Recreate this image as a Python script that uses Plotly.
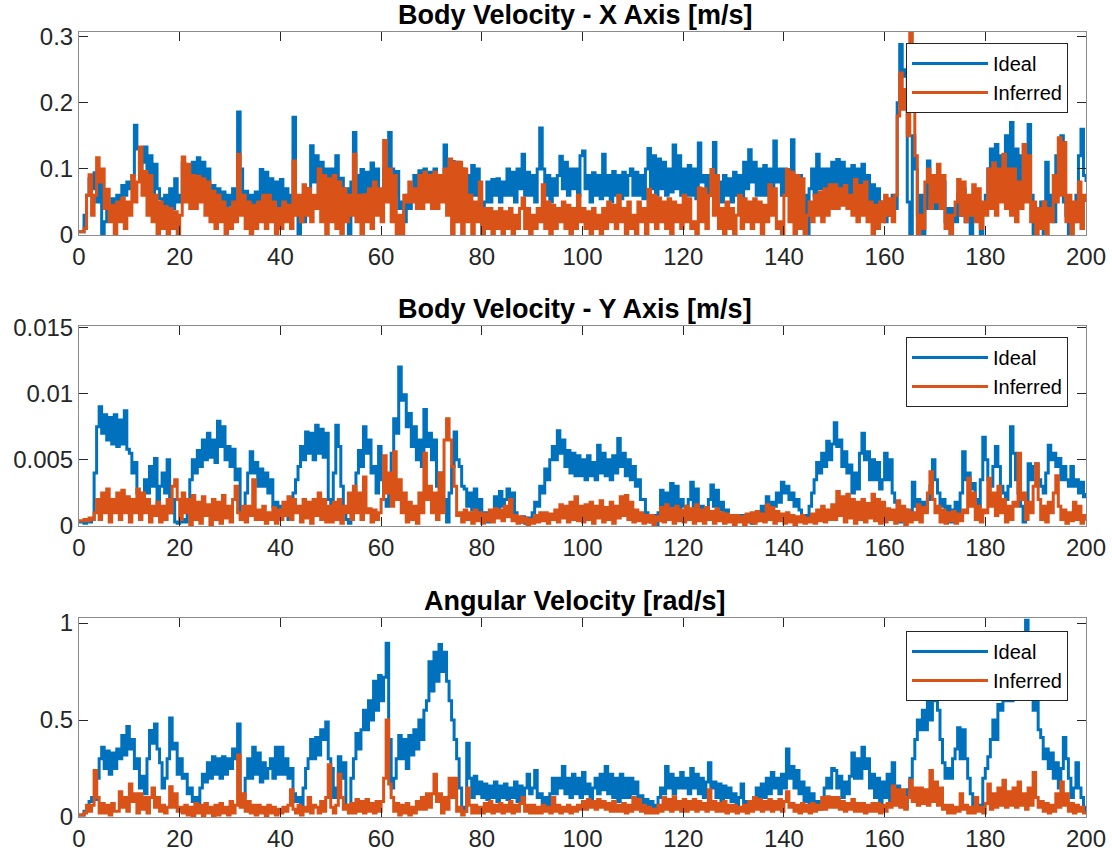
import numpy as np
import plotly.graph_objects as go

sample_step_s = 0.5

ideal_vx = [
    .005, .005, .03, .06, .085, .07, .094, .05, .08, 0, .02, .045, .03, .055, .04, .06, .05, .075, .06, .08,
    .07, .09, .166, .13, .1, .11, .133, .09, .12, .06, .107, .07, .055, .03, .06, .02, .07, .04, .085, .05,
    .06, .109, .07, .1, .08, .11, .07, .117, .08, .11, .075, .1, .06, .075, .04, .07, .03, .065, .04, .06,
    .045, .07, .05, .186, .1, .04, .066, .03, .06, .04, .065, .05, .099, .06, .095, .05, .085, .05, .08, .04,
    .084, .05, .07, .03, .06, .178, .05, 0, .04, .02, .05, .07, .135, .08, .12, .06, .11, .07, .1, .06,
    .1, .07, .12, .06, .086, .03, .07, 0, .08, .155, .09, .06, .099, .06, .095, .05, .109, .06, .1, .04,
    .06, .1, .08, .155, .1, .06, .096, .04, .05, .02, .06, .04, .06, .09, .05, .097, .06, .1, .07, .095,
    .06, .1, .07, .09, .06, .136, .1, .08, .111, .07, .11, .06, .1, .07, .09, .05, .105, .06, .1, .04,
    0, .05, .08, .05, .084, .06, .085, .05, .08, .06, .1, .06, .095, .05, .1, .07, .122, .06, .095, .06,
    .09, .05, .1, .162, .1, .06, .09, .05, .085, .06, .09, .119, .07, .11, .06, .1, .07, .1, .06, .12,
    .127, .07, .09, .05, .094, .06, .09, .055, .122, .06, .09, .05, .096, .06, .09, .055, .095, .06, .09, .1,
    .06, .095, .06, .09, .055, .1, .131, .07, .12, .06, .115, .07, .11, .06, .1, .065, .136, .07, .12, .06,
    .1, .06, .105, .06, .1, .055, .139, .08, .09, .055, .09, .06, .14, .09, .08, .05, .09, .06, .085, .05,
    .095, .06, .09, .055, .11, .07, .129, .08, .11, .06, .1, .06, .105, .06, .1, .065, .142, .08, .1, .06,
    .1, .06, .09, .144, .08, .06, .09, .03, .06, 0, .07, .1, .06, .122, .07, .1, .06, .1, .06, .11,
    .06, .114, .06, .11, .05, .1, .06, .105, .06, .1, .06, .107, .06, .09, .05, .076, .04, .07, .03, .05,
    .02, .05, .03, .06, .04, .2, .288, .24, .25, .05, 0, .15, .1, .03, .06, 0, .04, .112, .06, .08,
    .04, .09, .05, .08, .02, .04, 0, .04, .02, .06, .03, .07, .02, .05, 0, .06, .03, .05, 0, .04,
    .06, .1, .13, .08, .137, .09, .12, .08, .15, .09, .17, .1, .13, .07, .12, .06, .1, .167, .06, 0,
    .04, .02, .05, 0, .11, .03, .06, .02, .12, .08, .15, .05, .03, 0, .04, .02, .06, .12, .16, .09,
    .08,
]

inferred_vx = [
    .005, .005, .01, .06, .091, .03, .06, .117, .08, .1, .04, .069, .02, .045, 0, .05, .02, .056, .01, .05,
    .03, .09, .05, .08, .133, .06, .096, .03, .09, .02, .06, 0, .05, .01, .043, 0, .04, .01, .035, 0,
    .03, .118, .05, .107, .04, .09, .04, .089, .05, .085, .03, .08, .02, .066, .01, .06, .02, .05, 0, .04,
    .01, .05, .02, .122, .03, .06, .01, .05, 0, .045, .01, .05, .02, .06, .01, .06, .02, .05, 0, .04,
    .01, .05, .02, .045, .01, .112, .03, .06, .02, .076, .03, .07, .02, .06, .04, .1, .02, .09, 0, .085,
    .02, .09, .01, .08, 0, .07, .02, .06, .03, .122, .02, .06, 0, .061, .02, .07, .01, .08, .03, .07,
    .02, .143, .05, .1, .02, .09, 0, .03, 0, .06, .05, .08, .05, .07, .04, .09, .04, .095, .05, .09,
    .04, .095, .04, .09, .05, .1, .03, .115, 0, .11, .02, .11, 0, .1, .02, .06, 0, .05, .02, .08,
    0, .04, .01, .04, 0, .035, .01, .04, 0, .035, .01, .04, 0, .03, .01, .04, .056, .01, .04, 0,
    .03, .01, .04, .02, .076, .01, .05, 0, .045, .01, .04, .02, .05, .01, .045, 0, .04, .01, .06, .02,
    .04, .01, .035, 0, .04, .01, .03, 0, .04, .01, .05, .02, .045, .01, .06, .02, .04, 0, .05, .01,
    .03, 0, .05, .02, .04, 0, .069, .02, .06, .01, .056, .02, .05, .01, .055, 0, .05, .02, .045, .01,
    .06, .02, .055, .01, .02, 0, .071, .02, .07, .01, .06, .099, .03, .09, .01, .04, 0, .05, .01, .04,
    0, .03, .06, .01, .055, .02, .05, .01, .055, .02, .05, 0, .045, .02, .076, .03, .07, .01, .02, 0,
    .06, .099, .02, .095, 0, .09, .01, .085, 0, .03, .05, .02, .06, .03, .065, .02, .07, .03, .076, .04,
    .076, .04, .07, .045, .075, .04, .06, .03, .084, .02, .075, .03, .08, .02, .05, 0, .045, .01, .05, .02,
    .06, .03, .055, .02, .06, .18, .245, .19, .22, .15, .31, .192, .12, 0, .03, .01, .08, .1, .04, .09,
    .05, .107, .04, .09, .01, .03, 0, .03, .05, .084, .03, .08, .02, .06, .03, .076, .02, .07, .01, .05,
    .03, .1, .04, .109, .03, .1, .05, .122, .04, .1, .03, .1, .02, .08, .04, .137, .05, .12, .02, .05,
    0, .04, .01, .05, 0, .04, .02, .09, .05, .147, .06, .14, .02, .06, 0, .05, .02, .08, .01, .06,
    .05,
]

# Y-axis body velocity, in units of 1e-3 m/s
ideal_vy_milli = [
    .3, .3, .2, .4, .3, .5, 4.0, 7.5, 9.0, 7.0, 8.4, 6.5, 8.2, 6.2, 8.4, 6.0, 8.0, 6.2, 8.7, 5.8,
    5.5, 4.0, 4.8, 2.5, 1.0, 2.0, 3.5, 2.5, 4.5, 3.0, 5.1, 1.5, 3.0, 4.0, 2.5, 5.0, 1.0, 2.0, .3, .2,
    .3, .5, .3, 2.0, 3.5, 5.0, 4.0, 5.7, 4.5, 6.5, 5.0, 7.0, 5.2, 6.5, 4.8, 7.9, 6.0, 7.5, 5.0, 6.0,
    4.5, 5.8, 3.5, 4.3, 1.0, .5, 2.5, 4.0, 5.6, 4.0, 4.8, 3.0, 4.3, 3.0, 4.0, 2.5, 3.5, 1.5, 1.8, 1.0,
    1.5, .8, 1.2, .5, 1.5, 2.5, 3.5, 4.5, 6.0, 5.0, 7.1, 5.5, 7.0, 5.0, 7.6, 5.5, 7.3, 5.2, 7.0, 2.0,
    1.5, 4.0, 7.6, 6.0, 3.0, 1.0, .5, .2, .5, 2.5, 4.0, 5.7, 4.5, 7.5, 5.5, 6.5, 4.0, 4.5, 2.5, 6.0,
    3.5, 2.0, 1.5, 3.5, 5.5, 8.1, 7.0, 12.0, 9.5, 9.9, 7.5, 8.5, 6.0, 7.5, 5.0, 6.5, 4.5, 8.8, 6.0, 7.0,
    5.0, 6.5, 3.0, 4.0, 1.5, 2.0, .3, 2.5, 4.5, 7.1, 5.0, 4.5, 3.0, 2.8, 1.5, 2.5, 1.2, 2.8, 1.0, 2.0,
    .5, 1.0, .3, .8, 1.0, 2.2, 1.2, 2.6, 1.5, 2.0, 2.8, 1.5, 2.5, 1.0, .6, .3, .7, .2, .6, .3,
    1.0, 1.8, 1.5, 3.0, 2.5, 4.3, 3.5, 5.0, 6.0, 5.0, 7.2, 5.5, 6.5, 4.5, 5.7, 4.0, 5.5, 3.8, 5.3, 3.8,
    5.0, 3.5, 5.3, 3.8, 4.8, 3.5, 6.1, 4.0, 5.5, 3.8, 5.0, 3.5, 5.3, 4.0, 6.6, 4.5, 5.5, 3.8, 5.0, 3.5,
    4.5, 3.0, 3.5, 2.0, 2.0, 1.0, .8, .3, .8, 0, 1.0, 2.7, 1.2, 2.5, 1.5, 3.2, 1.5, 3.0, 1.2, 2.0,
    1.5, .8, 2.0, 3.3, 1.5, 2.8, 1.0, 1.5, .6, 1.2, 2.0, 3.1, 1.5, 2.7, 1.2, 1.8, .8, 1.2, .4, .8,
    .3, .7, .4, .8, .3, .6, .5, .2, .6, .4, .8, 1.5, 1.0, 2.2, 1.2, 1.8, 1.5, 2.5, 1.8, 3.3,
    2.5, 3.0, 2.0, 2.5, 1.5, 2.0, 1.2, .8, .5, .8, 1.5, 2.5, 3.5, 4.8, 4.0, 5.5, 4.5, 6.4, 5.0, 6.2,
    7.8, 6.0, 6.5, 4.5, 5.6, 4.0, 4.6, 2.5, 4.0, 2.8, 5.5, 7.0, 5.0, 5.6, 3.5, 5.0, 3.5, 4.8, 2.8, 3.5,
    5.5, 3.5, 5.0, 2.5, 1.8, 1.0, .3, .8, 1.2, .6, 1.0, 3.3, 1.5, 2.0, 1.0, 1.8, 1.2, 2.0, 3.0, 5.0,
    3.5, 2.5, 1.5, 2.0, .8, 1.5, .3, 1.2, 1.8, 1.0, 2.5, 5.6, 3.5, 4.0, 2.8, 3.2, 2.0, 1.5, 3.5, 6.7,
    5.0, 3.5, 3.0, 4.5, 6.0, 4.5, 3.0, 2.5, 2.0, 3.0, 7.5, 5.5, 3.5, 2.5, 1.5, .3, 2.0, 4.7, 3.5, 4.5,
    4.7, 3.5, 3.0, 2.5, 4.0, 6.1, 5.0, 5.5, 4.5, 5.1, 3.5, 4.5, 3.5, 3.0, 4.5, 3.0, 3.5, 2.5, 3.3, 2.2,
    2.5,
]

inferred_vy_milli = [
    .4, .4, .5, .4, .6, .5, 1.0, 2.0, .5, 2.5, 1.0, 2.8, .3, 2.0, 1.0, 2.5, .5, 2.7, 1.0, 2.2,
    .3, 2.0, 1.0, 2.8, .5, 2.5, 1.0, 2.0, .3, 1.5, .8, 1.8, .3, 1.5, .5, 2.0, 1.0, 3.0, 3.5, 2.0,
    .5, 2.5, 1.0, 2.0, 0, 2.3, .5, 1.8, .2, 2.2, .8, 1.6, 0, 2.0, .5, 1.8, .2, 2.3, .6, 1.5,
    .3, 2.0, 3.0, 1.0, .5, 1.5, .3, 1.5, .8, 3.5, .5, 1.2, .5, 1.5, .2, 1.0, .5, 1.4, .2, 1.2,
    .5, 1.8, .8, 2.2, .5, 2.0, 1.0, 1.5, .3, 2.0, .6, 1.8, .2, 2.0, .8, 2.5, .5, 2.0, .3, 1.5,
    .3, 1.8, .5, 2.0, .2, 1.5, 1.0, 2.5, .5, 3.0, 1.0, 2.5, .5, 3.7, 1.0, 1.3, .3, 1.2, .5, 1.0,
    2.0, 5.3, 2.5, 4.0, 1.5, 5.6, 2.0, 3.5, 1.0, 2.5, .3, 1.8, .5, 1.5, .2, 2.5, 1.0, 5.5, 2.0, 3.0,
    1.0, 2.5, .5, 4.0, 1.0, 6.5, 8.1, 6.5, 4.5, 3.0, .8, 1.0, .3, 1.2, .5, 1.0, .2, 1.2, .4, 1.0,
    .2, .9, .4, 1.2, .3, 1.3, .6, 1.2, .4, 1.5, .7, 2.0, .4, .8, .2, .7, .3, .6, .1, .5,
    .2, .8, .3, 1.0, .4, 1.0, .2, .9, .5, 1.2, .3, 1.6, .6, 1.5, .3, 1.8, .5, 2.2, .4, 1.5,
    .3, 1.6, .5, 1.8, .2, 1.5, .6, 1.9, .3, 1.4, .5, 1.8, .2, 1.5, .6, 2.2, .8, 2.3, .5, 1.8,
    .3, 1.2, .4, 1.0, .2, .8, .3, .8, .1, .7, .4, 1.4, .3, 1.6, .5, 1.3, .2, 1.5, .4, 1.2,
    .3, 1.5, .5, 1.3, .2, 1.6, .4, 1.2, .2, 1.4, .5, 1.1, .2, 1.3, .4, 1.0, .2, .9, .3, .8,
    .1, .8, .3, .7, .1, .9, .3, 1.0, .2, 1.1, .4, .9, .3, 1.6, .5, 1.4, .2, 1.1, .4, .9,
    .2, 1.0, .3, .8, .1, .7, .3, .8, .2, .6, .3, .9, .2, 1.2, .4, 1.5, .3, 1.2, .5, 1.6,
    .5, 2.6, .8, 2.2, .3, 2.4, .6, 2.0, .2, 1.8, .5, 2.0, .3, 1.7, .6, 2.4, .4, 2.0, .2, 1.8,
    .3, 1.3, .5, 1.2, .2, 1.9, .4, 1.5, .1, 1.2, .3, 1.0, .5, 1.6, .3, 1.4, 1.0, 2.5, 4.1, 2.0,
    1.0, 1.5, .3, 1.2, .2, 1.0, .4, 1.1, .2, .9, .4, 1.2, 1.0, 3.6, 1.5, 2.5, .5, 1.5, .3, 1.2,
    1.0, 3.6, 1.5, 2.5, .8, 3.0, 1.0, 2.0, .3, 1.5, .5, 1.8, 1.5, 5.5, 2.0, 2.5, .5, 1.8, 1.0, 3.0,
    4.7, 2.0, .5, 1.5, .3, 1.8, 1.0, 2.5, 3.8, 1.5, .5, 1.2, .2, 1.0, .4, 1.8, .5, 1.5, .2, .8,
    .4,
]

ideal_w = [
    .01, .01, .03, .05, .08, .1, .09, .2, .3, .36, .25, .34, .22, .33, .25, .35, .3, .42, .32, .466,
    .35, .4, .25, .3, .15, .21, .12, .3, .446, .38, .48, .35, .28, .15, .2, .3, .51, .35, .38, .22,
    .3, .2, .22, .12, .15, .08, .1, .05, .15, .22, .18, .28, .2, .31, .22, .3, .2, .31, .22, .3,
    .25, .35, .3, .48, .08, .1, .2, .3, .2, .36, .22, .33, .18, .28, .2, .25, .3, .2, .36, .22,
    .36, .22, .3, .2, .25, .12, .08, .1, .06, .15, .25, .3, .4, .3, .41, .32, .45, .4, .49, .3,
    .25, .1, .15, .31, .2, .28, .06, .04, .2, .3, .43, .35, .45, .55, .45, .6, .5, .7, .55, .73,
    .6, .72, .896, .4, .15, .2, .3, .42, .3, .4, .25, .42, .32, .45, .35, .5, .4, .55, .6, .8,
    .65, .85, .7, .89, .75, .85, .7, .6, .5, .4, .3, .15, .05, .03, .38, .2, .1, .21, .12, .18,
    .1, .17, .09, .16, .1, .18, .08, .16, .1, .17, .09, .15, .1, .18, .08, .16, .1, .15, .22, .12,
    .15, .24, .1, .12, .06, .1, .05, .12, .2, .12, .2, .15, .26, .12, .2, .1, .22, .12, .2, .1,
    .23, .12, .17, .06, .15, .2, .12, .22, .14, .26, .12, .22, .1, .2, .08, .22, .1, .2, .1, .2,
    .12, .18, .1, .11, .07, .09, .05, .08, .04, .06, .1, .15, .12, .26, .15, .22, .12, .2, .15, .23,
    .15, .2, .12, .25, .15, .22, .12, .2, .1, .18, .28, .15, .18, .1, .17, .08, .16, .1, .15, .08,
    .12, .06, .1, .17, .06, .08, .04, .07, .1, .15, .08, .17, .1, .2, .12, .23, .15, .2, .12, .22,
    .15, .35, .2, .26, .15, .24, .12, .18, .08, .15, .06, .12, .05, .08, .04, .08, .15, .2, .15, .25,
    .24, .15, .21, .1, .18, .12, .21, .33, .2, .3, .2, .36, .25, .3, .15, .22, .1, .2, .07, .18,
    .1, .22, .08, .28, .12, .16, .06, .12, .05, .14, .2, .3, .4, .5, .45, .55, .45, .62, .5, .72,
    .6, .55, .4, .28, .2, .25, .2, .3, .35, .46, .3, .45, .3, .2, .12, .06, .04, .06, .05, .2,
    .25, .31, .4, .5, .4, .58, .55, .65, .6, .72, .6, .75, .65, .8, .7, .85, 1.015, .7, .63, .55,
    .6, .45, .41, .3, .35, .25, .33, .2, .28, .15, .25, .41, .3, .2, .1, .15, .28, .15, .1, .05,
    .02,
]

inferred_w = [
    .01, .01, .02, .06, .03, .06, .24, .1, .02, .07, .02, .06, .01, .07, .03, .03, .13, .05, .1, .03,
    .17, .08, .12, .02, .12, .04, .1, .02, .1, .15, .05, .1, .03, .06, .02, .05, .156, .05, .12, .03,
    .05, .02, .06, .01, .05, 0, .07, .02, .06, 0, .07, .02, .05, 0, .06, .01, .07, .02, .05, .01,
    .08, .02, .06, .32, .05, .12, .03, .08, .02, .06, .01, .06, .02, .05, 0, .06, .02, .05, .01, .04,
    .02, .05, .03, .06, .14, .04, .02, .06, .01, .05, .03, .1, .02, .06, .05, .02, .08, .03, .1, .27,
    .05, .02, .06, .22, .1, .04, .06, .02, .07, .02, .09, .03, .08, .02, .09, .03, .07, .02, .08, .03,
    .08, .2, .5, .17, .1, .03, .07, .01, .06, .02, .07, .01, .05, .02, .08, .04, .1, .04, .12, .05,
    .12, .22, .08, .12, .02, .1, .04, .2, .1, .2, .03, .05, .01, .03, .15, .06, .02, .06, .02, .05,
    .02, .07, .03, .08, .02, .06, .03, .07, .02, .06, .03, .08, .02, .06, .03, .07, .1, .03, .06, .02,
    .06, .02, .05, .02, .06, .03, .05, .02, .1, .03, .06, .02, .05, .03, .06, .02, .05, .03, .06, .04,
    .08, .04, .09, .05, .08, .04, .09, .05, .08, .04, .07, .03, .08, .03, .06, .03, .07, .02, .06, .03,
    .1, .04, .09, .03, .06, .02, .05, .02, .04, .02, .06, .03, .1, .04, .09, .03, .105, .04, .08, .03,
    .09, .03, .08, .04, .09, .03, .08, .04, .07, .03, .14, .04, .08, .03, .07, .03, .08, .02, .06, .03,
    .06, .02, .05, .03, .06, .02, .08, .03, .1, .04, .09, .03, .08, .04, .09, .03, .08, .04, .09, .03,
    .08, .13, .05, .07, .03, .06, .02, .07, .03, .06, .02, .07, .03, .06, .04, .1, .04, .105, .05, .1,
    .05, .1, .04, .08, .03, .07, .04, .09, .03, .07, .03, .07, .02, .06, .03, .07, .03, .07, .02, .06,
    .03, .07, .05, .16, .06, .14, .05, .14, .04, .1, .19, .08, .15, .06, .15, .07, .14, .06, .24, .08,
    .18, .06, .15, .04, .06, .02, .06, .02, .05, .03, .12, .04, .06, .02, .05, .02, .1, .03, .05, .02,
    .07, .17, .04, .12, .05, .15, .06, .19, .05, .13, .06, .15, .05, .18, .06, .12, .04, .15, .06, .23,
    .1, .05, .08, .03, .07, .02, .06, .03, .12, .05, .18, .06, .12, .03, .07, .02, .06, .03, .05, .02,
    .02,
]

panel_titles = ["Body Velocity - X Axis [m/s]", "Body Velocity - Y Axis [m/s]", "Angular Velocity [rad/s]"]
series_names = ["Ideal", "Inferred"]
x_ticks = list(range(0, 201, 20))
y_ticks = [[0, 0.1, 0.2, 0.3], [0, 0.005, 0.01, 0.015], [0, 0.5, 1]]
y_tick_text = [["0", "0.1", "0.2", "0.3"], ["0", "0.005", "0.01", "0.015"], ["0", "0.5", "1"]]
y_ranges = [[0, 0.307], [0, 0.0151], [0, 1.026]]

# ---------------- figure ----------------
W, H = 1112, 858
ML, MR, MT, MB = 79, 26, 32, 41
PH = H - MT - MB
FONT = "Liberation Sans, Arial, Helvetica, sans-serif"
BLUE, ORANGE = "#0072BD", "#D95319"
AX = "#262626"


def py(px):
    return (H - MB - px) / PH


def pxx(px):
    return (px - ML) / (W - ML - MR)


panels = [
    (ideal_vx, inferred_vx, 1.0),
    (ideal_vy_milli, inferred_vy_milli, 1e-3),
    (ideal_w, inferred_w, 1.0),
]
domains = [[py(235), py(32)], [py(526), py(326)], [py(817), py(618)]]
legend_tops = [43, 337, 631]

fig = go.Figure()
for k, (ideal, inferred, scale) in enumerate(panels):
    sfx = "" if k == 0 else str(k + 1)
    for name, vals, col in zip(series_names, [ideal, inferred], [BLUE, ORANGE]):
        v = np.asarray(vals, dtype=float) * scale
        t = np.arange(len(v)) * sample_step_s
        fig.add_trace(go.Scatter(
            x=t, y=v, mode="lines", name=name,
            line=dict(color=col, width=3, shape="hv"),
            xaxis="x" + sfx, yaxis="y" + sfx,
            legend="legend" + sfx, showlegend=True,
        ))

layout = dict(
    width=W, height=H,
    margin=dict(l=ML, r=MR, t=MT, b=MB, autoexpand=False),
    paper_bgcolor="white", plot_bgcolor="white",
    font=dict(family=FONT, color=AX),
    showlegend=True,
)
annotations = []
for k in range(3):
    sfx = "" if k == 0 else str(k + 1)
    layout["xaxis" + sfx] = dict(
        domain=[0, 1], anchor="y" + sfx, range=[0, 200],
        tickvals=x_ticks, ticktext=[str(v) for v in x_ticks],
        ticks="inside", ticklen=9, tickcolor=AX, tickwidth=1,
        showline=True, linecolor="#8c8c8c", linewidth=1, mirror="allticks",
        showgrid=False, zeroline=False, automargin=False,
        tickfont=dict(size=24, color=AX, family=FONT),
    )
    layout["yaxis" + sfx] = dict(
        domain=domains[k], anchor="x" + sfx, range=y_ranges[k],
        tickvals=y_ticks[k], ticktext=y_tick_text[k],
        ticks="inside", ticklen=9, tickcolor=AX, tickwidth=1,
        showline=True, linecolor="#8c8c8c", linewidth=1, mirror="allticks",
        showgrid=False, zeroline=False, automargin=False,
        tickfont=dict(size=24, color=AX, family=FONT),
    )
    layout["legend" + sfx] = dict(
        x=pxx(1068), xanchor="right", y=py(legend_tops[k]), yanchor="top",
        bgcolor="white", bordercolor=AX, borderwidth=1,
        font=dict(size=20, color="black", family=FONT),
        itemwidth=76, tracegroupgap=0,
    )
    annotations.append(dict(
        text="<b>" + panel_titles[k] + "</b>", showarrow=False,
        xref="paper", yref="paper", x=pxx(575), y=domains[k][1],
        xanchor="center", yanchor="bottom", yshift=0,
        font=dict(size=27, color="black", family=FONT),
    ))
layout["annotations"] = annotations
fig.update_layout(**layout)

fig.write_html("out.html")
